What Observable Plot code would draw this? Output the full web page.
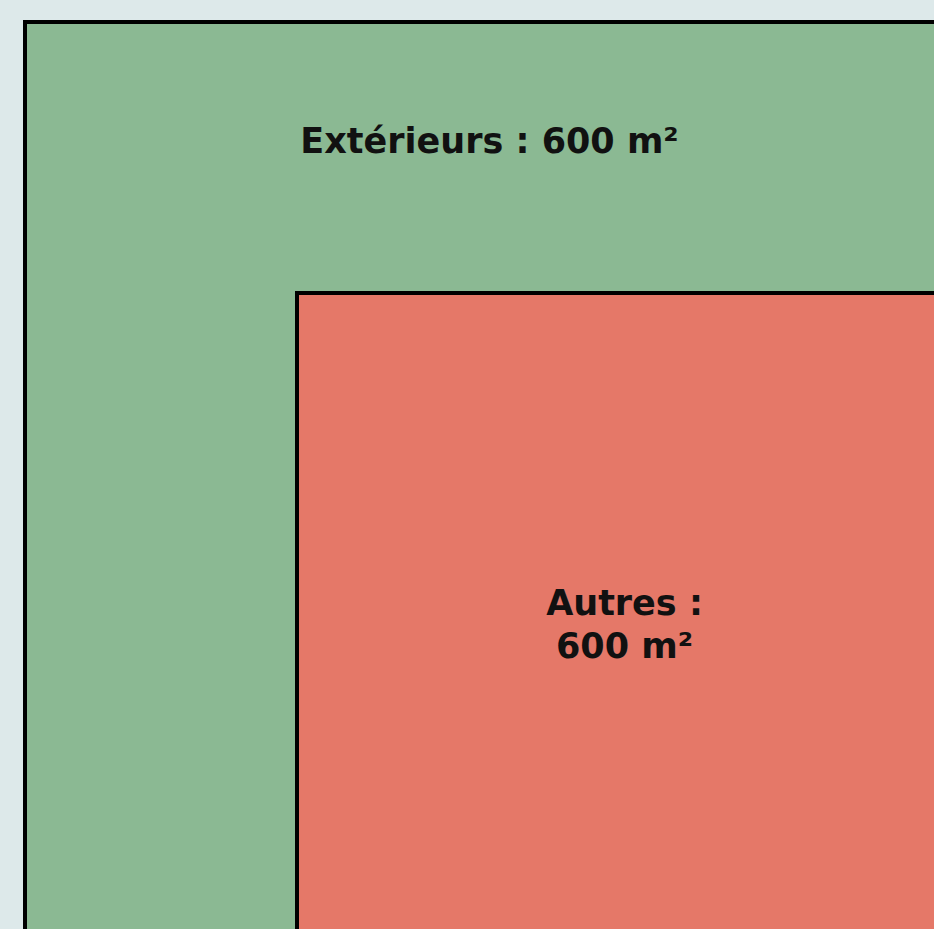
<!DOCTYPE html>
<html>
<head>
<meta charset="utf-8">
<script src="https://cdn.jsdelivr.net/npm/d3@7"></script>
<script src="https://cdn.jsdelivr.net/npm/@observablehq/plot@0.6"></script>
<style>
  html, body { margin: 0; padding: 0; background: #dde9ea; overflow: hidden; }
  #chart svg { display: block; }
</style>
</head>
<body>
<div id="chart"></div>
<script>
// Categories and their surfaces (m²)
const categories = ["Extérieurs", "Autres"];
const surfaces = [600, 600];
const labels = ["Extérieurs : 600 m²", "Autres :\n600 m²"];
const colors = ["#8bb993", "#e57868"];

// Plan layout in plan units (the view shows only the upper-left part of the plan)
const planX1 = [1.25, 14.85];
const planY1 = [1.1, 14.65];
const planX2 = [60, 60];
const planY2 = [60, 60];
const labelX = [24.45, 31.2];
const labelY = [6.95, 31.1];

const rects = categories.map((c, i) => ({
  category: c, surface: surfaces[i],
  x1: planX1[i], x2: planX2[i], y1: planY1[i], y2: planY2[i]
}));
const texts = categories.map((c, i) => ({
  category: c, label: labels[i], x: labelX[i], y: labelY[i]
}));

const chart = Plot.plot({
  width: 934,
  height: 929,
  margin: 0,
  x: {domain: [0, 46.7], axis: null},
  y: {domain: [0, 46.45], axis: null, reverse: true},
  color: {domain: categories, range: colors},
  style: {background: "#dde9ea"},
  marks: [
    Plot.rect(rects, {x1: "x1", x2: "x2", y1: "y1", y2: "y2", fill: "category", stroke: "#000", strokeWidth: 4, clip: true}),
    Plot.text(texts, {x: "x", y: "y", text: "label", fontSize: 35, fontWeight: 700, fontFamily: "DejaVu Sans", fill: "#111", lineHeight: 1.23, lineAnchor: "middle"})
  ]
});
document.getElementById("chart").append(chart);
</script>
</body>
</html>
